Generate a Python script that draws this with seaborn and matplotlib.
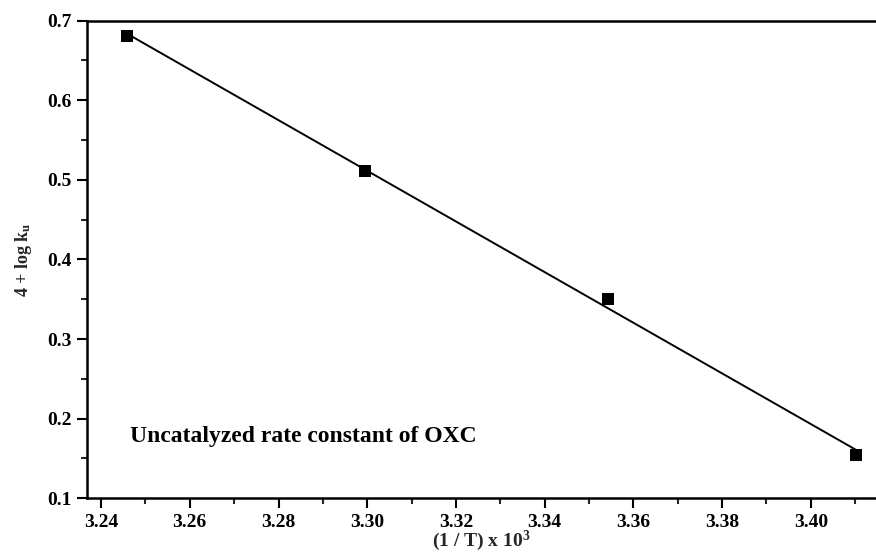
import numpy as np
import pandas as pd
import matplotlib
matplotlib.use("Agg")
import matplotlib.pyplot as plt
from matplotlib.ticker import MultipleLocator
import seaborn as sns

# Arrhenius-type data: inverse temperature (x 10^3) vs 4 + log k_u
inv_temp = [3.2459, 3.2995, 3.3543, 3.4102]
log_ku = [0.681, 0.511, 0.350, 0.154]

x_ticks = [3.24, 3.26, 3.28, 3.30, 3.32, 3.34, 3.36, 3.38, 3.40]
y_ticks = [0.1, 0.2, 0.3, 0.4, 0.5, 0.6, 0.7]

df = pd.DataFrame({"inv_temp": inv_temp, "log_ku": log_ku})

sns.set_style("white")
plt.rcParams["font.family"] = ["Liberation Serif", "DejaVu Serif"]
plt.rcParams["mathtext.fontset"] = "custom"
plt.rcParams["mathtext.rm"] = "Liberation Serif:bold"
plt.rcParams["mathtext.it"] = "Liberation Serif:bold"
plt.rcParams["mathtext.bf"] = "Liberation Serif:bold"

fig = plt.figure(figsize=(8.76, 5.55), dpi=100)
ax = fig.add_axes([0.0997, 0.1022, 0.9003, 0.8605])

sns.regplot(data=df, x="inv_temp", y="log_ku", ax=ax, ci=None, truncate=True,
            marker="s",
            scatter_kws={"s": 80, "color": "black", "alpha": 1.0,
                         "edgecolors": "black", "linewidths": 0, "zorder": 3},
            line_kws={"color": "black", "linewidth": 1.4, "zorder": 2})

ax.set_xlim(3.2369, 3.4147)
ax.set_ylim(0.1, 0.7)
ax.set_xticks(x_ticks)
ax.set_xticklabels([f"{v:.2f}" for v in x_ticks])
ax.set_yticks(y_ticks)
ax.set_yticklabels([f"{v:.1f}" for v in y_ticks])
ax.xaxis.set_minor_locator(MultipleLocator(0.01))
ax.yaxis.set_minor_locator(MultipleLocator(0.05))

ax.tick_params(axis="both", which="major", direction="out", length=7, width=1.5,
               labelsize=14, colors="black", pad=4)
ax.tick_params(axis="both", which="minor", direction="out", length=4, width=1.5)
ax.tick_params(axis="x", which="both", bottom=True, top=False)
ax.tick_params(axis="y", which="both", left=True, right=False)
for lbl in ax.get_xticklabels() + ax.get_yticklabels():
    lbl.set_fontweight("bold")

for side in ["left", "bottom", "top"]:
    ax.spines[side].set_visible(True)
    ax.spines[side].set_linewidth(1.8)
    ax.spines[side].set_color("black")
ax.spines["right"].set_visible(False)

ax.set_xlabel(r"(1 / T) x 10$^{3}$", fontsize=14, fontweight="bold", labelpad=-1)
ax.set_ylabel(r"4 + log k$_{\mathrm{u}}$", fontsize=13, fontweight="bold", labelpad=10)

ax.text(3.2465, 0.178, "Uncatalyzed rate constant of OXC", fontsize=17,
        fontweight="bold", ha="left", va="center", color="black")

fig.savefig("out.png", dpi=100)
